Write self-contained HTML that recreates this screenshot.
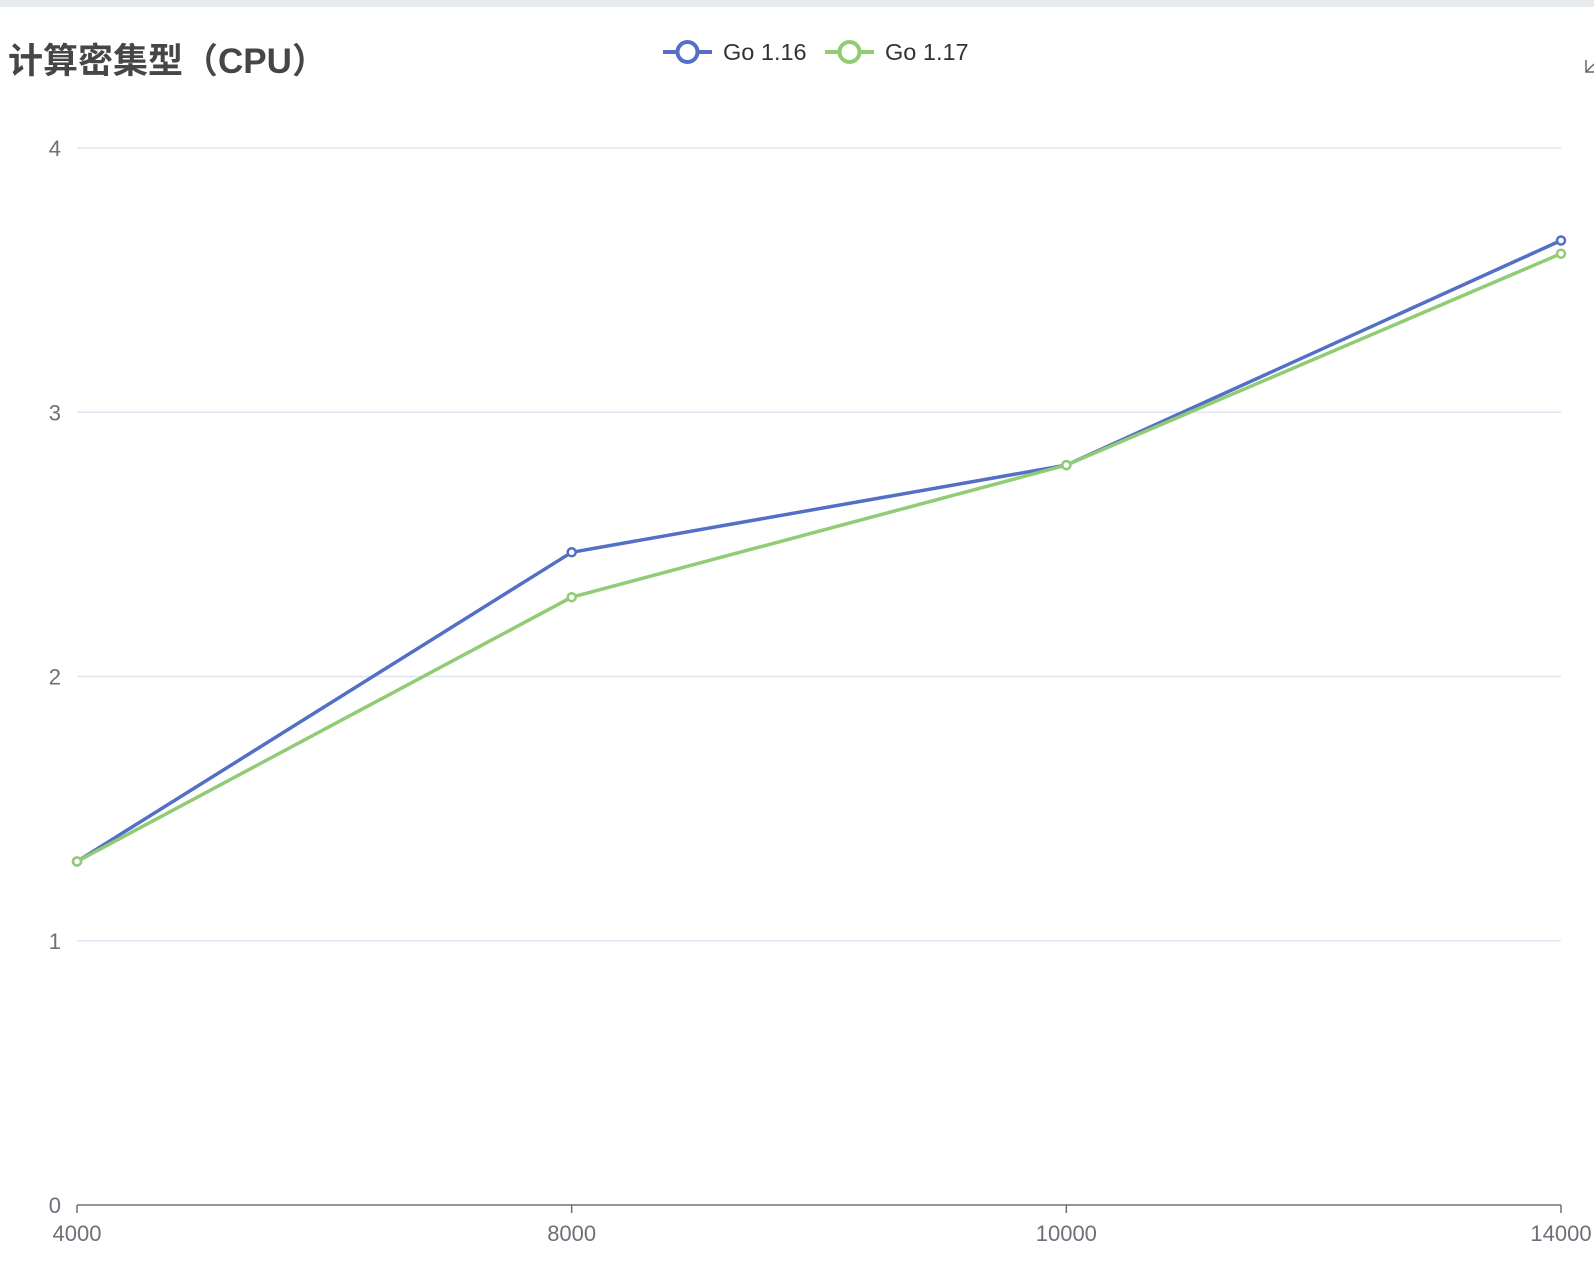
<!DOCTYPE html>
<html><head><meta charset="utf-8">
<style>
html,body{margin:0;padding:0;background:#fff;}
body{width:1594px;height:1264px;overflow:hidden;position:relative;font-family:"Liberation Sans","Noto Sans CJK SC",sans-serif;}
#topbar{position:absolute;left:0;top:0;width:1594px;height:7px;background:#e8ebee;}
#title{position:absolute;left:8px;top:33px;font-size:35px;font-weight:bold;color:#464646;font-family:"Liberation Sans","Noto Sans CJK SC",sans-serif;}
svg{position:absolute;left:0;top:0;}
</style></head>
<body>
<div id="topbar"></div>
<div id="title">计算密集型（CPU）</div>
<svg id="chart" width="1594" height="1264"></svg>
<script>
const categories=["4000","8000","10000","14000"];
const go116=[1.3,2.47,2.80,3.65];
const go117=[1.3,2.30,2.80,3.60];
const yTicks=[0,1,2,3,4];
const seriesNames=["Go 1.16","Go 1.17"];
const colors=["#5470c6","#91cc75"];

const svg=document.getElementById('chart');
const NS='http://www.w3.org/2000/svg';
const x0=77,x1=1561,yb=1205,yt=148,ymax=4;
function xs(i){return x0+(x1-x0)*i/(categories.length-1);}
function ys(v){return yb-(yb-yt)*v/ymax;}
function mk(t,a){const e=document.createElementNS(NS,t);for(const k in a)e.setAttribute(k,a[k]);svg.appendChild(e);return e;}

yTicks.forEach(v=>{
  if(v>0){const l=mk('line',{x1:x0,x2:x1,y1:ys(v),y2:ys(v),stroke:'#e0e6f1','stroke-width':1.5});
  
  }
  const t=mk('text',{x:61,y:ys(v)+8,'text-anchor':'end','font-size':22,fill:'#6e7079'});
  t.textContent=v;
  
  
});
const ax=mk('line',{x1:x0,x2:x1,y1:yb,y2:yb,stroke:'#6e7079','stroke-width':1.5});


categories.forEach((c,i)=>{
  const tk=mk('line',{x1:xs(i),x2:xs(i),y1:yb,y2:yb+8,stroke:'#6e7079','stroke-width':1.5});
  
  
  const t=mk('text',{x:xs(i),y:1241,'text-anchor':'middle','font-size':22,fill:'#6e7079'});
  t.textContent=c;
  
  
});
[go116,go117].forEach((s,k)=>{
  const p=mk('polyline',{points:s.map((v,i)=>xs(i)+','+ys(v)).join(' '),fill:'none',stroke:colors[k],'stroke-width':3.5,'stroke-linejoin':'round'});
  
  
  s.forEach((v,i)=>{
    const c=mk('circle',{cx:xs(i),cy:ys(v),r:4,fill:'#fff',stroke:colors[k],'stroke-width':2.5});
    
    
  });
});
const lx=[663,825];
seriesNames.forEach((n,k)=>{
  const g=document.createElementNS(NS,'g');svg.appendChild(g);
  
  
  const l=document.createElementNS(NS,'line');
  [['x1',lx[k]],['x2',lx[k]+49],['y1',52],['y2',52],['stroke',colors[k]],['stroke-width',4]].forEach(a=>l.setAttribute(a[0],a[1]));g.appendChild(l);
  const c=document.createElementNS(NS,'circle');
  [['cx',lx[k]+24.5],['cy',52],['r',10],['fill','#fff'],['stroke',colors[k]],['stroke-width',4]].forEach(a=>c.setAttribute(a[0],a[1]));g.appendChild(c);
  const t=document.createElementNS(NS,'text');
  [['x',lx[k]+60],['y',60],['font-size',23.5],['fill','#333']].forEach(a=>t.setAttribute(a[0],a[1]));
  t.textContent=n;g.appendChild(t);
});
const ic=mk('path',{d:'M1586 60 L1586 72 L1594 72 M1586 72 L1594 64',fill:'none',stroke:'#666','stroke-width':1.5});


</script>
</body></html>
